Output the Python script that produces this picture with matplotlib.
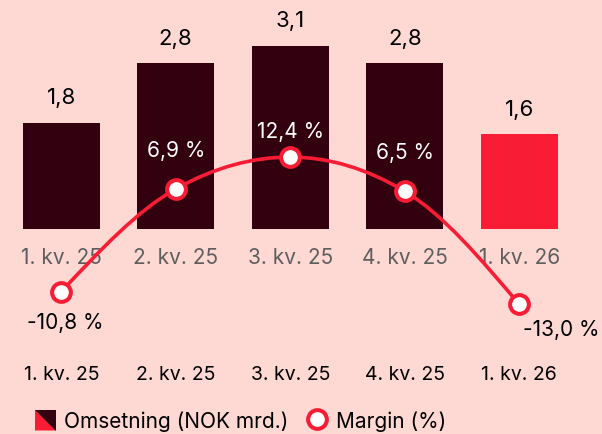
import matplotlib.pyplot as plt
from matplotlib.path import Path
from matplotlib.patches import PathPatch, Polygon, Rectangle
from matplotlib.lines import Line2D
from matplotlib.legend_handler import HandlerBase
import matplotlib.transforms as mtrans
import numpy as np

kvartal = ["1. kv. 25", "2. kv. 25", "3. kv. 25", "4. kv. 25", "1. kv. 26"]
omsetning = [1.8, 2.8, 3.1, 2.8, 1.6]
margin = [-10.8, 6.9, 12.4, 6.5, -13.0]
omsetning_tekst = ["1,8", "2,8", "3,1", "2,8", "1,6"]
margin_tekst = ["-10,8 %", "6,9 %", "12,4 %", "6,5 %", "-13,0 %"]

bg = "#FED8D2"
mork = "#33000F"
rod = "#F81C35"
grå = "#5E5E5E"

plt.rcParams["font.family"] = ["Inter", "DejaVu Sans"]

fig = plt.figure(figsize=(6.02, 4.35), dpi=100, facecolor=bg)
ax = fig.add_axes([4 / 602, 95 / 435, 572.5 / 602, 320 / 435])
ax.set_facecolor(bg)
ax.axis("off")
x = np.arange(len(kvartal))
ax.set_xlim(-0.5, len(kvartal) - 0.5)
ax.set_ylim(-1.86, 3.55)

farger = [mork] * (len(kvartal) - 1) + [rod]
ax.bar(x, omsetning, width=0.67, color=farger, zorder=1)

for i, v in enumerate(omsetning):
    ax.annotate(omsetning_tekst[i], (x[i], v), xytext=(0, 14), textcoords="offset points",
                ha="center", va="baseline", fontsize=16, color="black")

# kategori-tekst inni plottet og under
blend = mtrans.blended_transform_factory(ax.transData, ax.transAxes)
for i, k in enumerate(kvartal):
    ax.text(x[i], 0.256, k, transform=blend, ha="center", va="center",
            fontsize=15, color=grå, zorder=2)
    ax.text(x[i], -0.109, k, transform=blend, ha="center", va="center",
            fontsize=14, color="black")

# margin-aksen
ax2 = ax.twinx()
ax2.axis("off")
ax2.set_ylim(-18.97, 36.2)


def monotone_path(xs, ys):
    xs = np.asarray(xs, float)
    ys = np.asarray(ys, float)
    n = len(xs)
    h = np.diff(xs)
    s = np.diff(ys) / h
    t = np.zeros(n)
    for i in range(1, n - 1):
        p = (s[i - 1] * h[i] + s[i] * h[i - 1]) / (h[i - 1] + h[i])
        t[i] = (np.sign(s[i - 1]) + np.sign(s[i])) * min(abs(s[i - 1]), abs(s[i]), 0.5 * abs(p))
    t[0] = (3 * s[0] - t[1]) / 2
    t[-1] = (3 * s[-1] - t[-2]) / 2
    verts = [(xs[0], ys[0])]
    codes = [Path.MOVETO]
    for i in range(n - 1):
        dx = h[i] / 3
        verts += [(xs[i] + dx, ys[i] + dx * t[i]),
                  (xs[i + 1] - dx, ys[i + 1] - dx * t[i + 1]),
                  (xs[i + 1], ys[i + 1])]
        codes += [Path.CURVE4] * 3
    return Path(verts, codes)


ax2.add_patch(PathPatch(monotone_path(x, margin), facecolor="none", edgecolor=rod,
                        lw=2.6, zorder=3))
ax2.plot(x, margin, linestyle="none", marker="o", markersize=13.5, markerfacecolor="white",
         markeredgecolor=rod, markeredgewidth=2.9, zorder=4)

forskyvning = [(3, -22), (0, 28), (0, 19), (0, 28), (30, -18)]
tekstfarge = ["black", "white", "white", "white", "black"]
for i, m in enumerate(margin):
    ax2.annotate(margin_tekst[i], (x[i], m), xytext=forskyvning[i], textcoords="offset points",
                 ha="center", va="center", fontsize=15, color=tekstfarge[i], zorder=5)


class DelteFirkant(HandlerBase):
    def create_artists(self, legend, orig, xd, yd, w, h, fontsize, trans):
        s = 1.0 * fontsize
        x0 = -xd
        y0 = -yd + h / 2 - s / 2
        nede = Polygon([[x0, y0], [x0 + s, y0], [x0, y0 + s]], closed=True,
                       facecolor=rod, edgecolor="none", transform=trans)
        oppe = Polygon([[x0 + s, y0], [x0 + s, y0 + s], [x0, y0 + s]], closed=True,
                       facecolor=mork, edgecolor="none", transform=trans)
        return [nede, oppe]


h1 = Rectangle((0, 0), 1, 1)
h2 = Line2D([], [], linestyle="none", marker="o", markersize=13.5, markerfacecolor="white",
            markeredgecolor=rod, markeredgewidth=2.9)
fig.legend([h1, h2], ["Omsetning (NOK mrd.)", "Margin (%)"],
           handler_map={Rectangle: DelteFirkant()},
           loc="center left", bbox_to_anchor=(35 / 602, 13 / 435), ncol=2, frameon=False,
           fontsize=15, handlelength=0.95, handleheight=0.95, handletextpad=0.45,
           columnspacing=0.9, borderpad=0, borderaxespad=0)

fig.savefig("out.png", dpi=100, facecolor=bg)
